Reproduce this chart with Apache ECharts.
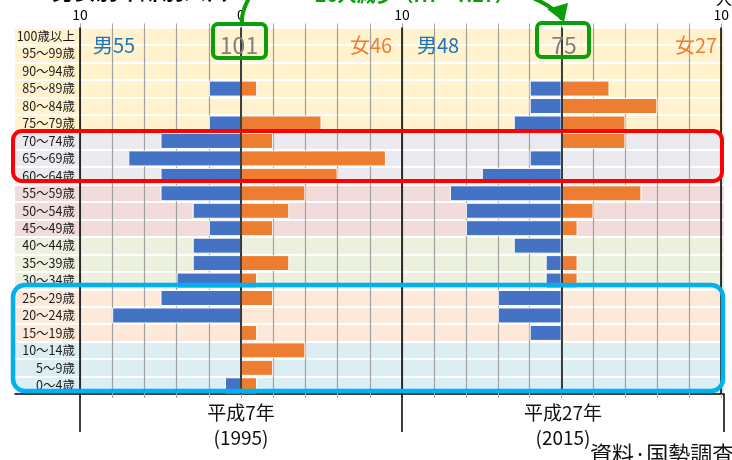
<!DOCTYPE html>
<html>
<head>
<meta charset="utf-8">
<script src="https://cdn.jsdelivr.net/npm/echarts@6/dist/echarts.min.js"></script>
<style>
  html, body { margin: 0; padding: 0; background: #fff; }
  #main { width: 732px; height: 460px; }
</style>
</head>
<body>
<div id="main"></div>
<script>
// 年齢区分（下から上へ）
const ages = ['0～4歳', '5～9歳', '10～14歳', '15～19歳', '20～24歳', '25～29歳', '30～34歳',
  '35～39歳', '40～44歳', '45～49歳', '50～54歳', '55～59歳', '60～64歳', '65～69歳', '70～74歳',
  '75～79歳', '80～84歳', '85～89歳', '90～94歳', '95～99歳', '100歳以上']

// 平成7年（1995）
const male1995 = [1, 0, 0, 0, 8, 5, 4, 3, 3, 2, 3, 5, 5, 7, 5, 2, 0, 2, 0, 0, 0]
const female1995 = [1, 2, 4, 1, 0, 2, 1, 3, 0, 2, 3, 4, 6, 9, 2, 5, 0, 1, 0, 0, 0]

// 平成27年（2015）
const male2015 = [0, 0, 0, 2, 4, 4, 1, 1, 3, 6, 6, 7, 5, 2, 0, 3, 2, 2, 0, 0, 0]
const female2015 = [0, 0, 0, 0, 0, 0, 1, 1, 0, 1, 2, 5, 0, 0, 4, 4, 6, 3, 0, 0, 0]

const years = ['平成7年\n(1995)', '平成27年\n(2015)']

// 年齢帯ごとの背景色（3区分ずつ）
const groupColors = ['#DAEEF3', '#FDE9D9', '#EBF1DE', '#F2DCDB', '#ECEAF1', '#FFF2CC', '#FFF2CC']
const rowColors = ages.map((_, i) => groupColors[Math.floor(i / 3)])

const sum = arr => arr.reduce((a, b) => a + b, 0)
const FONT = 'Noto Sans CJK JP'
const GREEN = '#0A9E0A'

const chart = echarts.init(document.getElementById('main'))

const gridTop = 27.5, gridBottom = 66

const valueAxisTop = (grid, labels) => ({
  type: 'value', gridIndex: grid, position: 'top', min: -10, max: 10, interval: 2, z: 1,
  axisLine: { show: false },
  axisTick: { show: true, length: 4, lineStyle: { color: '#A6A6A6' } },
  axisLabel: {
    show: true, margin: 6, fontSize: 14, color: '#000', fontFamily: FONT,
    showMinLabel: true, showMaxLabel: true,
    formatter: v => labels.includes(v) ? String(Math.abs(v)) : ''
  },
  splitLine: { show: true, lineStyle: { color: '#A0A0A0', width: 1.2 } }
})

const valueAxisBottom = grid => ({
  type: 'value', gridIndex: grid, position: 'bottom', min: -10, max: 10, interval: 2,
  axisLine: { show: false },
  axisTick: { show: true, length: 4, lineStyle: { color: '#A6A6A6' } },
  axisLabel: { show: false },
  splitLine: { show: false }
})

const barSeries = (name, data, xi, yi, color, lines) => ({
  name, type: 'bar', xAxisIndex: xi, yAxisIndex: yi, data,
  barWidth: 16, barGap: '-100%', z: 2,
  itemStyle: { color, borderColor: '#fff', borderWidth: 1 },
  markLine: lines ? {
    silent: true, symbol: 'none', label: { show: false },
    lineStyle: { color: '#000', width: 1.5, type: 'solid' },
    data: lines.map(v => ({ xAxis: v }))
  } : undefined
})

chart.setOption({
  animation: false,
  grid: [
    { left: 15, right: 8, top: gridTop, bottom: gridBottom },   // 背景
    { left: 80, right: 330, top: gridTop, bottom: gridBottom }, // 平成7年
    { left: 402, right: 8, top: gridTop, bottom: gridBottom },  // 平成27年
    { left: 80, right: 8, top: gridTop, bottom: gridBottom }    // 年ラベル
  ],
  xAxis: [
    {
      type: 'value', gridIndex: 0, min: 0, max: 1,
      axisLine: { show: true, lineStyle: { color: '#000', width: 1.5 } },
      axisTick: { show: false }, axisLabel: { show: false }, splitLine: { show: false }
    },
    valueAxisTop(1, [-10, 0, 10]),
    valueAxisBottom(1),
    valueAxisTop(2, [0, 10]),
    valueAxisBottom(2),
    {
      type: 'category', gridIndex: 3, position: 'bottom', data: years,
      axisLine: { show: false },
      axisTick: { show: true, length: 38, interval: 0, lineStyle: { color: '#000', width: 1.5 } },
      axisLabel: { margin: 6, fontSize: 19, lineHeight: 25, color: '#111', fontFamily: FONT },
      splitLine: { show: false }
    }
  ],
  yAxis: [
    {
      type: 'category', gridIndex: 0, data: ages,
      axisLine: { show: false }, axisTick: { show: false }, axisLabel: { show: false },
      splitArea: { show: true, interval: 0, areaStyle: { color: rowColors, opacity: 1 } },
      splitLine: { show: true, interval: 0, lineStyle: { color: '#fff', width: 2 } }
    },
    {
      type: 'category', gridIndex: 1, data: ages, z: 1,
      axisLine: { show: false }, axisTick: { show: false },
      axisLabel: { margin: 5, fontSize: 12.5, color: '#1a1a1a', fontFamily: FONT, interval: 0 }
    },
    {
      type: 'category', gridIndex: 2, data: ages,
      axisLine: { show: false }, axisTick: { show: false }, axisLabel: { show: false }
    },
    { type: 'value', gridIndex: 3, show: false }
  ],
  series: [
    barSeries('男 1995', male1995.map(v => -v), 1, 1, '#4472C4', [-10, 0, 10]),
    barSeries('女 1995', female1995, 1, 1, '#ED7D31'),
    barSeries('男 2015', male2015.map(v => -v), 3, 2, '#4472C4', [0, 10]),
    barSeries('女 2015', female2015, 3, 2, '#ED7D31')
  ],
  graphic: [
    // 上部の見出し（画像上端で切れている）
    { type: 'text', z: 10, style: { text: '男女別年齢別人口', x: 52, y: 2, verticalAlign: 'bottom', font: `bold 22px "${FONT}"`, fill: '#000' } },
    { type: 'text', z: 10, style: { text: '26人減少（H7→H27）', x: 315, y: 4, verticalAlign: 'bottom', font: `bold 19px "${FONT}"`, fill: GREEN } },
    { type: 'text', z: 10, style: { text: '人', x: 716, y: 7, verticalAlign: 'bottom', font: `16px "${FONT}"`, fill: '#000' } },

    // 男女別合計
    { type: 'text', z: 10, style: { text: '男' + sum(male1995), x: 93, y: 45, verticalAlign: 'middle', font: `20px "${FONT}"`, fill: '#1B75BC' } },
    { type: 'text', z: 10, style: { text: '女' + sum(female1995), x: 350, y: 45, verticalAlign: 'middle', font: `20px "${FONT}"`, fill: '#ED7D31' } },
    { type: 'text', z: 10, style: { text: '男' + sum(male2015), x: 417, y: 45, verticalAlign: 'middle', font: `20px "${FONT}"`, fill: '#1B75BC' } },
    { type: 'text', z: 10, style: { text: '女' + sum(female2015), x: 675, y: 45, verticalAlign: 'middle', font: `20px "${FONT}"`, fill: '#ED7D31' } },

    // 総数
    { type: 'text', z: 10, style: { text: String(sum(male1995) + sum(female1995)), x: 239, y: 45, align: 'center', verticalAlign: 'middle', font: `23px "${FONT}"`, fill: '#808080' } },
    { type: 'text', z: 10, style: { text: String(sum(male2015) + sum(female2015)), x: 564, y: 45, align: 'center', verticalAlign: 'middle', font: `23px "${FONT}"`, fill: '#808080' } },
    { type: 'rect', z: 11, shape: { x: 213, y: 24, width: 53, height: 34, r: 5 }, style: { fill: 'none', stroke: GREEN, lineWidth: 4 } },
    { type: 'rect', z: 11, shape: { x: 537, y: 23, width: 52, height: 34, r: 5 }, style: { fill: 'none', stroke: GREEN, lineWidth: 4 } },
    { type: 'bezierCurve', z: 11, shape: { x1: 242, y1: 23, cpx1: 241, cpy1: 12, cpx2: 246, cpy2: 4, x2: 249, y2: -2 }, style: { fill: 'none', stroke: GREEN, lineWidth: 4 } },
    { type: 'bezierCurve', z: 11, shape: { x1: 533, y1: -2, cpx1: 542, cpy1: 2, cpx2: 550, cpy2: 6, x2: 556, y2: 12 }, style: { fill: 'none', stroke: GREEN, lineWidth: 4 } },
    { type: 'polygon', z: 11, shape: { points: [[547, 9], [568, 3], [564, 22]] }, style: { fill: GREEN } },

    // 強調枠
    { type: 'rect', z: 12, shape: { x: 13, y: 131, width: 709, height: 50, r: 9 }, style: { fill: 'none', stroke: '#FF0000', lineWidth: 4 } },
    { type: 'rect', z: 12, shape: { x: 13, y: 285, width: 710, height: 106, r: 12 }, style: { fill: 'none', stroke: '#00B0F0', lineWidth: 4.5 } },

    // 出典
    { type: 'text', z: 10, style: { text: '資料·国勢調査', x: 590, y: 443, font: `22px "${FONT}"`, fill: '#111' } }
  ]
})
</script>
</body>
</html>
